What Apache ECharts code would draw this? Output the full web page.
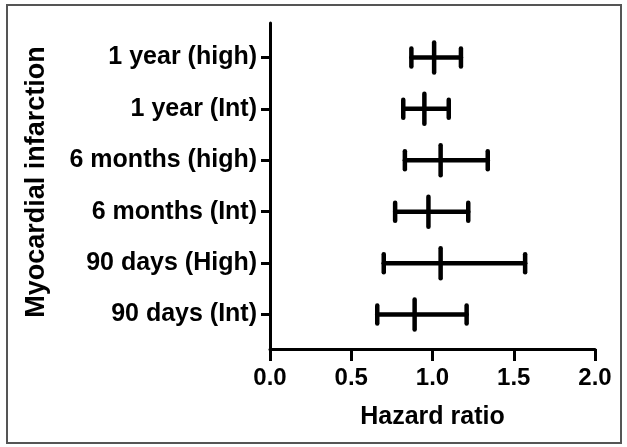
<!DOCTYPE html>
<html>
<head>
<meta charset="utf-8">
<script src="https://cdn.jsdelivr.net/npm/echarts@6/dist/echarts.min.js"></script>
<style>
  html, body { margin: 0; padding: 0; background: #fff; }
  #chart { width: 627px; height: 447px; }
</style>
</head>
<body>
<div id="chart"></div>
<script>
// rows top to bottom
var categories = ["1 year (high)", "1 year (Int)", "6 months (high)", "6 months (Int)", "90 days (High)", "90 days (Int)"];
var lower = [0.87, 0.82, 0.83, 0.77, 0.70, 0.66];
var estimate = [1.01, 0.95, 1.05, 0.975, 1.05, 0.89];
var upper = [1.175, 1.10, 1.34, 1.22, 1.57, 1.21];

var rows = categories.map(function (c, i) {
  return [lower[i], estimate[i], upper[i], i];
});

var FONT = "Liberation Sans, Arial, sans-serif";

var myChart = echarts.init(document.getElementById("chart"));

var option = {
  animation: false,
  backgroundColor: "#fff",
  graphic: [
    {
      type: "rect",
      shape: { x: 7, y: 5, width: 614, height: 438 },
      style: { fill: "none", stroke: "#555", lineWidth: 2 },
      silent: true
    }
  ],
  grid: { left: 270, right: 32, top: 23, bottom: 98 },
  xAxis: {
    type: "value",
    min: 0,
    max: 2,
    interval: 0.5,
    name: "Hazard ratio",
    nameLocation: "middle",
    nameGap: 56,
    nameTextStyle: { color: "#000", fontSize: 25, fontWeight: "bold", fontFamily: FONT },
    axisLine: { show: true, onZero: false, lineStyle: { color: "#000", width: 3 } },
    axisTick: { show: true, length: 12, lineStyle: { color: "#000", width: 3 } },
    axisLabel: {
      color: "#000", fontSize: 24, fontWeight: "bold", fontFamily: FONT, margin: 17,
      formatter: function (v) { return v.toFixed(1); }
    },
    splitLine: { show: false }
  },
  yAxis: {
    type: "value",
    inverse: true,
    min: -0.67,
    max: 5.67,
    name: "Myocardial infarction",
    nameLocation: "middle",
    nameGap: 220,
    nameRotate: 90,
    nameTextStyle: { color: "#000", fontSize: 27, fontWeight: "bold", fontFamily: FONT, padding: [0, 0, 0, 8] },
    axisLine: { show: true, onZero: false, lineStyle: { color: "#000", width: 3 } },
    axisTick: { show: true, length: 9, lineStyle: { color: "#000", width: 3 }, customValues: [0, 1, 2, 3, 4, 5] },
    axisLabel: {
      color: "#000", fontSize: 25, fontWeight: "bold", fontFamily: FONT, margin: 13,
      customValues: [0, 1, 2, 3, 4, 5],
      formatter: function (v) { return categories[Math.round(v)]; }
    },
    splitLine: { show: false }
  },
  series: [
    {
      type: "custom",
      data: rows,
      encode: { x: [0, 1, 2], y: 3 },
      renderItem: function (params, api) {
        var y = api.value(3);
        var a = api.coord([api.value(0), y]);
        var m = api.coord([api.value(1), y]);
        var b = api.coord([api.value(2), y]);
        var st = { stroke: "#000", lineWidth: 4.5, lineCap: "round" };
        return {
          type: "group",
          children: [
            { type: "line", shape: { x1: a[0], y1: a[1], x2: b[0], y2: b[1] }, style: st },
            { type: "line", shape: { x1: a[0], y1: a[1] - 9, x2: a[0], y2: a[1] + 9 }, style: st },
            { type: "line", shape: { x1: b[0], y1: b[1] - 9, x2: b[0], y2: b[1] + 9 }, style: st },
            { type: "line", shape: { x1: m[0], y1: m[1] - 15, x2: m[0], y2: m[1] + 15 }, style: st }
          ]
        };
      }
    }
  ]
};

myChart.setOption(option);
</script>
</body>
</html>
